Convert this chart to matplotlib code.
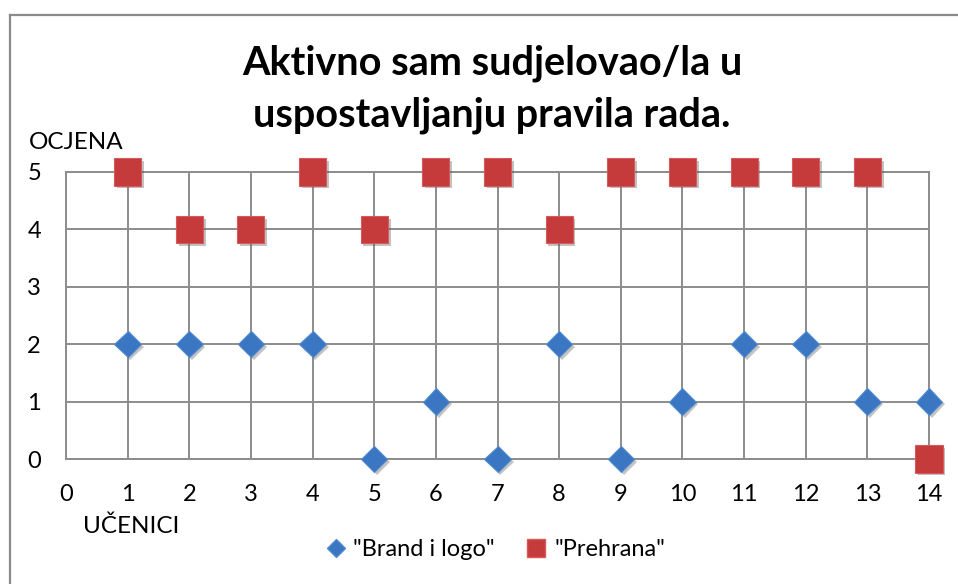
import matplotlib
matplotlib.use("Agg")
import matplotlib.pyplot as plt
from matplotlib.lines import Line2D
import matplotlib.patheffects as pe

plt.rcParams['font.family'] = ['Lato', 'DejaVu Sans']

# data
ucenici = [1, 2, 3, 4, 5, 6, 7, 8, 9, 10, 11, 12, 13, 14]
brand_i_logo = [2, 2, 2, 2, 0, 1, 0, 2, 0, 1, 2, 2, 1, 1]
prehrana = [5, 4, 4, 5, 4, 5, 5, 4, 5, 5, 5, 5, 5, 0]
x_ticks = list(range(0, 15))
y_ticks = list(range(0, 6))

W, H = 958, 584
fig = plt.figure(figsize=(W / 100, H / 100), dpi=100)
ax = fig.add_axes([66 / W, 1 - 459 / H, (929 - 66) / W, (459 - 172) / H])

grid_col = '#8c8c8c'
shadow = [pe.SimplePatchShadow(offset=(2, -2), shadow_rgbFace='#555555', alpha=0.35), pe.Normal()]

ax.plot(ucenici, brand_i_logo, linestyle='none', marker='D', markersize=13.5,
        color='#3a76c2', markeredgecolor='#4f8ad0', markeredgewidth=0.8,
        clip_on=False, zorder=3, path_effects=shadow)
ax.plot(ucenici, prehrana, linestyle='none', marker='s', markersize=19.5,
        color='#c53a3a', markeredgecolor='#d65a5a', markeredgewidth=0.8,
        clip_on=False, zorder=4, path_effects=shadow)

ax.set_xlim(0, 14)
ax.set_ylim(0, 5)
ax.set_xticks(x_ticks)
ax.set_yticks(y_ticks)
ax.grid(True, color=grid_col, linewidth=1.4)
ax.set_axisbelow(True)
for s in ax.spines.values():
    s.set_color(grid_col)
    s.set_linewidth(1.4)
ax.tick_params(axis='both', length=0, labelsize=17, colors='black')
ax.tick_params(axis='y', pad=18)
ax.tick_params(axis='x', pad=18)

# title in two lines
fig.text(492 / W, 1 - 74 / H, 'Aktivno sam sudjelovao/la u', ha='center', va='baseline',
         fontsize=28.5, fontweight='bold')
fig.text(492 / W, 1 - 127 / H, 'uspostavljanju pravila rada.', ha='center', va='baseline',
         fontsize=28.5, fontweight='bold')

fig.text(29 / W, 1 - 149 / H, 'OCJENA', ha='left', va='baseline', fontsize=17.5)
fig.text(83 / W, 1 - 533 / H, 'UČENICI', ha='left', va='baseline', fontsize=17.5)

handles = [
    Line2D([], [], linestyle='none', marker='D', markersize=8.7, color='#3a76c2',
           markeredgecolor='#4f8ad0'),
    Line2D([], [], linestyle='none', marker='s', markersize=13, color='#c53a3a',
           markeredgecolor='#d65a5a'),
]
fig.legend(handles, ['"Brand i logo"', '"Prehrana"'], loc='center',
           bbox_to_anchor=(495 / W, 1 - 550 / H), ncol=2, frameon=False, fontsize=17,
           handlelength=0.9, handletextpad=0.3, columnspacing=1.3)

# chart area border (top and left visible)
fig.add_artist(Line2D([9.5 / W, 9.5 / W], [0, 1 - 15 / H], transform=fig.transFigure,
                      color='#8a8a8a', linewidth=1.6))
fig.add_artist(Line2D([9.5 / W, 1], [1 - 15 / H, 1 - 15 / H], transform=fig.transFigure,
                      color='#8a8a8a', linewidth=1.6))

fig.savefig('out.png', dpi=100)
